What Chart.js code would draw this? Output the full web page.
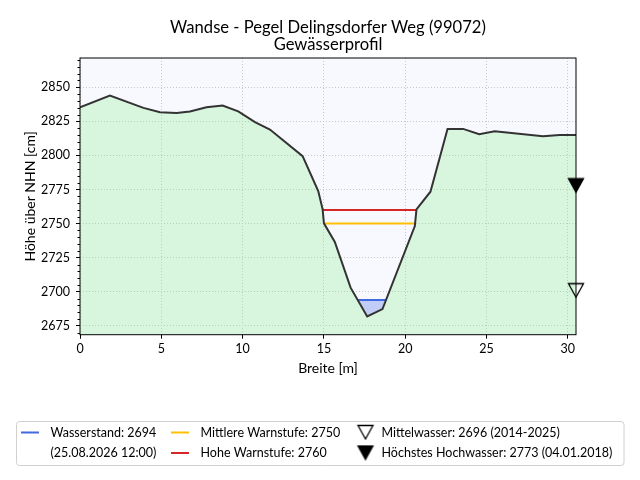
<!DOCTYPE html>
<html>
<head>
<meta charset="utf-8">
<script src="https://cdn.jsdelivr.net/npm/chart.js@4.4.1/dist/chart.umd.min.js"></script>
<style>
  html, body { margin: 0; padding: 0; background: #fff; }
  #wrap { width: 640px; height: 480px; }
</style>
</head>
<body>
<div id="wrap"><canvas id="profil" width="640" height="480"></canvas></div>
<script>
// ── Gewässerprofil Wandse – Pegel Delingsdorfer Weg ──

// Querprofil (Breite in m, Höhe in cm über NHN)
const breite = [0, 1.84, 3.9, 4.92, 5.94, 6.76, 7.78, 8.77, 9.73, 10.76, 11.68, 13.69, 14.65, 14.92, 15.0,
  15.67, 16.64, 17.66, 18.6, 20.59, 20.69, 21.55, 22.6, 23.56, 24.55, 25.5, 28.47, 29.5, 30.5];
const hoehe = [2835.4, 2843.9, 2834.9, 2831.7, 2831.2, 2832.2, 2835.4, 2836.6, 2832.4, 2824.4, 2819, 2799.5, 2773.9, 2760.5, 2750.2,
  2736.5, 2703, 2681.9, 2687.3, 2748.2, 2760.5, 2773.4, 2819.5, 2819.5, 2815.6, 2817.8, 2814.1, 2815, 2815];

const xTicks = [0, 5, 10, 15, 20, 25, 30];
const yTicks = [2675, 2700, 2725, 2750, 2775, 2800, 2825, 2850];
const yMin = 2668.5, yMax = 2871.5;

const wasserstand = 2694;
const wasserstandZeit = '25.08.2026 12:00';
const mittlereWarnstufe = 2750;
const hoheWarnstufe = 2760;
const mittelwasser = 2696;
const mittelwasserZeitraum = '2014-2025';
const hoechstesHW = 2773;
const hoechstesHWDatum = '04.01.2018';

const FONT = 'Lato';
const cBlue = '#4169e1', cYellow = '#ffc000', cRed = '#d62728';

const profil = breite.map((x, i) => ({ x, y: hoehe[i] }));
const xEnd = breite[breite.length - 1];

// Schnittpunkte einer Höhe mit dem Gerinne (links/rechts vom Tiefpunkt)
function schnitt(level) {
  let iMin = 0;
  hoehe.forEach((h, i) => { if (h < hoehe[iMin]) iMin = i; });
  const lerp = (a, b) => breite[a] + (level - hoehe[a]) * (breite[b] - breite[a]) / (hoehe[b] - hoehe[a]);
  let l = iMin; while (l > 0 && hoehe[l - 1] < level) l--;
  let r = iMin; while (r < hoehe.length - 1 && hoehe[r + 1] < level) r++;
  return [{ x: lerp(l - 1, l), y: level }, { x: lerp(r, r + 1), y: level }];
}

function dreieck(filled) {
  const c = document.createElement('canvas');
  c.width = 30; c.height = 30;
  const g = c.getContext('2d');
  g.beginPath();
  g.moveTo(7.5, 1.5); g.lineTo(22.5, 1.5); g.lineTo(15, 15); g.closePath();
  if (filled) { g.fillStyle = '#000'; g.fill(); }
  g.lineWidth = 1.3; g.strokeStyle = '#000'; g.lineJoin = 'miter'; g.stroke();
  return c;
}
const triOffen = dreieck(false), triVoll = dreieck(true);

const legende = [
  { type: 'line', color: cBlue, text: ['Wasserstand: ' + wasserstand, '(' + wasserstandZeit + ')'], x: 21, y: 432.5 },
  { type: 'line', color: cYellow, text: ['Mittlere Warnstufe: ' + mittlereWarnstufe], x: 171, y: 432.5 },
  { type: 'line', color: cRed, text: ['Hohe Warnstufe: ' + hoheWarnstufe], x: 171, y: 453 },
  { type: 'img', img: triOffen, text: ['Mittelwasser: ' + mittelwasser + ' (' + mittelwasserZeitraum + ')'], x: 358, y: 432.5 },
  { type: 'img', img: triVoll, text: ['Höchstes Hochwasser: ' + hoechstesHW + ' (' + hoechstesHWDatum + ')'], x: 358, y: 453 }
];

const rahmenPlugin = {
  id: 'rahmen',
  beforeDraw(chart) {
    const { ctx, chartArea: a } = chart;
    ctx.save();
    ctx.fillStyle = '#fff';
    ctx.fillRect(0, 0, chart.width, chart.height);
    ctx.fillStyle = '#f8f8ff';
    ctx.fillRect(a.left, a.top, a.right - a.left, a.bottom - a.top);
    ctx.restore();
  },
  afterDatasetsDraw(chart) {
    const { ctx, chartArea: a } = chart;
    const ys = chart.scales.y;
    ctx.save();
    ctx.strokeStyle = '#000';
    ctx.lineWidth = 1;
    ctx.strokeRect(a.left, a.top, a.right - a.left, a.bottom - a.top);
    // kleine Zwischenstriche auf der y-Achse
    ctx.beginPath();
    for (let v = Math.ceil(yMin / 5) * 5; v <= yMax; v += 5) {
      if (v % 25 === 0) continue;
      const py = Math.round(ys.getPixelForValue(v)) + 0.5;
      ctx.moveTo(a.left - 2.5, py); ctx.lineTo(a.left, py);
    }
    ctx.stroke();
    ctx.restore();
  },
  afterDraw(chart) {
    const ctx = chart.ctx;
    ctx.save();
    ctx.beginPath();
    ctx.roundRect(16.5, 421.5, 607.5, 44, 3);
    ctx.fillStyle = 'rgba(255,255,255,0.8)';
    ctx.fill();
    ctx.strokeStyle = '#d0d0d0';
    ctx.lineWidth = 1;
    ctx.stroke();
    ctx.font = '12.5px ' + FONT;
    ctx.textBaseline = 'middle';
    ctx.fillStyle = '#000';
    legende.forEach(e => {
      let tx;
      if (e.type === 'line') {
        ctx.strokeStyle = e.color; ctx.lineWidth = 2;
        ctx.beginPath(); ctx.moveTo(e.x, e.y); ctx.lineTo(e.x + 18, e.y); ctx.stroke();
        tx = e.x + 29.5;
      } else {
        ctx.drawImage(e.img, e.x - 7.5, e.y - 8.5);
        tx = e.x + 23.5;
      }
      e.text.forEach((t, k) => ctx.fillText(t, tx, e.y + k * 20.5));
    });
    ctx.restore();
  }
};

new Chart(document.getElementById('profil').getContext('2d'), {
  type: 'line',
  data: {
    datasets: [
      {
        label: 'Profil', data: profil, order: 1,
        borderColor: '#333', borderWidth: 2, pointRadius: 0, tension: 0,
        fill: 'start', backgroundColor: 'rgba(144,238,144,0.3)'
      },
      {
        label: 'Wasserstand', data: schnitt(wasserstand), order: 2,
        borderColor: cBlue, borderWidth: 2, pointRadius: 0,
        fill: { target: 0, above: 'rgba(65,105,225,0.3)', below: 'rgba(0,0,0,0)' }
      },
      {
        label: 'Mittlere Warnstufe', data: schnitt(mittlereWarnstufe), order: 3,
        borderColor: cYellow, borderWidth: 2, pointRadius: 0, fill: false
      },
      {
        label: 'Hohe Warnstufe', data: schnitt(hoheWarnstufe), order: 3,
        borderColor: cRed, borderWidth: 2, pointRadius: 0, fill: false
      },
      {
        label: 'Mittelwasser', data: [{ x: xEnd, y: mittelwasser }], order: 0,
        showLine: false, pointStyle: triOffen, pointRadius: 8, clip: false
      },
      {
        label: 'Höchstes Hochwasser', data: [{ x: xEnd, y: hoechstesHW }], order: 0,
        showLine: false, pointStyle: triVoll, pointRadius: 8, clip: false
      }
    ]
  },
  options: {
    responsive: false, animation: false, devicePixelRatio: 1,
    layout: { padding: { left: 22, right: 64, top: 0, bottom: 102.8 } },
    plugins: {
      legend: { display: false },
      tooltip: { enabled: false },
      title: {
        display: true, fullSize: false, text: ['Wandse - Pegel Delingsdorfer Weg (99072)', 'Gewässerprofil'],
        color: '#000', font: { family: FONT, size: 16.6, weight: 'normal', lineHeight: 1.0 },
        padding: { top: 19.4, bottom: 5.4 }
      }
    },
    scales: {
      x: {
        type: 'linear', min: 0, max: xEnd,
        afterBuildTicks: s => { s.ticks = xTicks.map(v => ({ value: v })); },
        afterFit: s => { s.height = 42.5; },
        grid: { color: '#c8c8c8', tickColor: '#000', tickLength: 4, tickWidth: 1 },
        border: { display: false, dash: [1, 2] },
        ticks: { color: '#000', font: { family: FONT, size: 12.5 }, padding: 3, maxRotation: 0, callback: v => String(v) },
        title: { display: true, text: 'Breite [m]', color: '#000', font: { family: FONT, size: 14 }, padding: 0 }
      },
      y: {
        type: 'linear', min: yMin, max: yMax,
        afterBuildTicks: s => { s.ticks = yTicks.map(v => ({ value: v })); },
        afterFit: s => { s.width = 58; },
        grid: { color: '#c8c8c8', tickColor: '#000', tickLength: 4, tickWidth: 1 },
        border: { display: false, dash: [1, 2] },
        ticks: { color: '#000', font: { family: FONT, size: 12.5 }, padding: 6, callback: v => String(v) },
        title: { display: true, text: 'Höhe über NHN [cm]', color: '#000', font: { family: FONT, size: 14 }, padding: 0 }
      }
    }
  },
  plugins: [rahmenPlugin]
});
</script>
</body>
</html>
